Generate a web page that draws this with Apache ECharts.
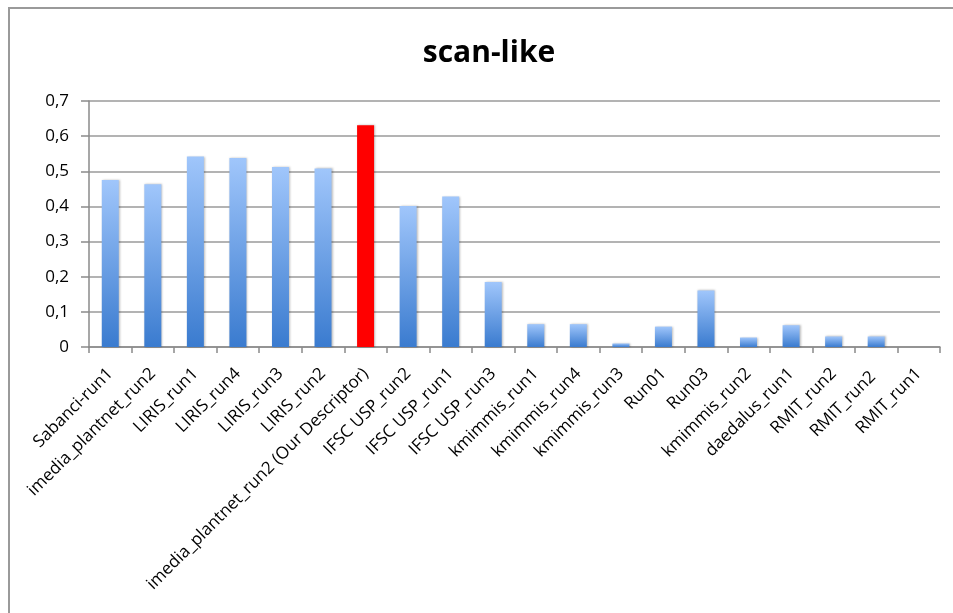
<!DOCTYPE html>
<html>
<head>
<meta charset="utf-8">
<script src="https://cdn.jsdelivr.net/npm/echarts@6/dist/echarts.min.js"></script>
<style>
  html, body { margin: 0; padding: 0; background: #fff; }
  #frame {
    position: absolute; left: 8px; top: 7px; width: 945px; height: 606px;
    border-left: 2px solid #9a9a9a; border-top: 2px solid #9a9a9a;
  }
  #chart { position: absolute; left: 0; top: 0; width: 953px; height: 613px; }
</style>
</head>
<body>
<div id="frame"></div>
<div id="chart"></div>
<script>
const runs = [
  'Sabanci-run1', 'imedia_plantnet_run2', 'LIRIS_run1', 'LIRIS_run4', 'LIRIS_run3',
  'LIRIS_run2', 'imedia_plantnet_run2 (Our Descriptor)', 'IFSC USP_run2', 'IFSC USP_run1',
  'IFSC USP_run3', 'kmimmis_run1', 'kmimmis_run4', 'kmimmis_run3', 'Run01', 'Run03',
  'kmimmis_run2', 'daedalus_run1', 'RMIT_run2', 'RMIT_run2 ', 'RMIT_run1'
];
const scores = [
  0.475, 0.463, 0.542, 0.538, 0.512, 0.508, 0.631, 0.401, 0.428, 0.185,
  0.065, 0.065, 0.010, 0.058, 0.161, 0.027, 0.062, 0.030, 0.030, 0
];
const highlightIndex = 6;

const chart = echarts.init(document.getElementById('chart'));

const blueFill = new echarts.graphic.LinearGradient(0, 0, 0, 1, [
  { offset: 0, color: '#a0c6fb' },
  { offset: 1, color: '#3a7bcf' }
]);

chart.setOption({
  animation: false,
  backgroundColor: 'transparent',
  title: {
    text: 'scan-like',
    left: 484,
    textAlign: 'center',
    top: 33,
    textStyle: { fontFamily: 'Open Sans', fontWeight: 'bold', fontSize: 30, color: '#000' }
  },
  grid: { left: 89, right: 13, top: 101, bottom: 266 },
  xAxis: {
    type: 'category',
    data: runs,
    axisLine: { lineStyle: { color: '#8a8a8a', width: 1.5 } },
    axisTick: { show: true, length: 6, alignWithLabel: false, lineStyle: { color: '#8a8a8a', width: 1.5 } },
    axisLabel: {
      interval: 0,
      rotate: 45,
      margin: 24,
      fontFamily: 'Open Sans',
      fontSize: 17,
      color: '#000'
    }
  },
  yAxis: {
    type: 'value',
    min: 0,
    max: 0.7,
    interval: 0.1,
    axisLine: { show: true, lineStyle: { color: '#8a8a8a', width: 1.5 } },
    axisTick: { show: true, inside: false, length: 8, lineStyle: { color: '#8a8a8a', width: 1.5 } },
    splitLine: { lineStyle: { color: '#9a9a9a', width: 1.5 } },
    axisLabel: {
      margin: 20,
      fontFamily: 'Open Sans',
      fontSize: 17,
      color: '#000',
      formatter: v => (v === 0 ? '0' : v.toFixed(1).replace('.', ','))
    }
  },
  series: [{
    type: 'bar',
    barWidth: 17,
    data: scores.map((v, i) => ({
      value: v,
      itemStyle: { color: i === highlightIndex ? '#ff0000' : blueFill }
    })),
    itemStyle: {
      shadowColor: 'rgba(0,0,0,0.25)',
      shadowBlur: 2,
      shadowOffsetX: 1,
      shadowOffsetY: 0
    }
  }]
});
</script>
</body>
</html>
